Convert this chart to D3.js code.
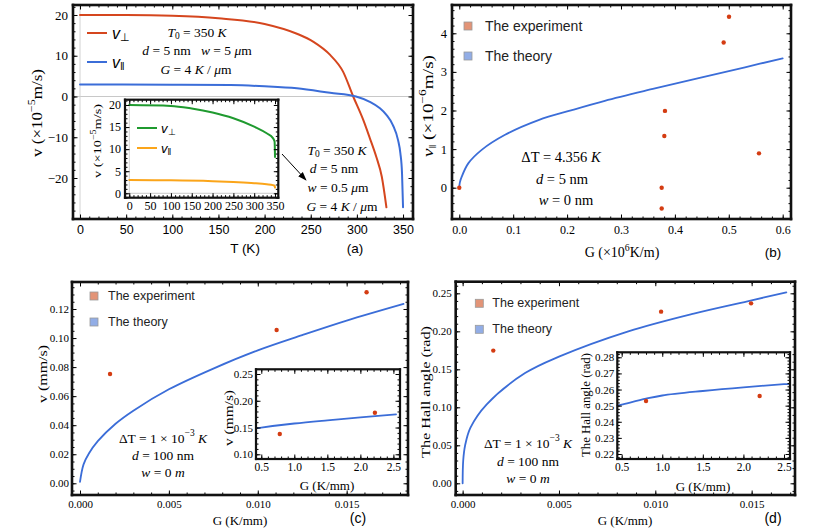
<!DOCTYPE html>
<html><head><meta charset="utf-8">
<script src="https://cdn.jsdelivr.net/npm/d3@7"></script>
<style>body{margin:0;background:#fff}svg{display:block}</style>
</head><body>
<svg id="c" width="831" height="528" viewBox="0 0 831 528"></svg>
<script>
// ---------------- DATA ----------------
const aTickX = [0,50,100,150,200,250,300,350];
const aTickY = [-20,-10,0,10,20];
const aPerpT = [0,50,100,150,200,235,253,271,285,296,307,314,321,327,332];
const aPerpV = [20,19.98,19.8,19.2,17.8,15.4,13.4,10.2,6.1,0,-5.8,-10.2,-14.8,-19.7,-27.2];
const aParT  = [0,100,163,200,235,271,299,314,325,332,339,344.6,347.1,348.9,350];
const aParV  = [2.95,2.9,2.8,2.5,2.0,0.9,0,-1.3,-2.9,-4.5,-7.0,-10.7,-13.9,-18.8,-27.2];
const aiTickX = [0,50,100,150,200,250,300,350];
const aiTickY = [0,5,10,15,20];
const aiPerpT = [0,100,150,200,250,300,330,345,349,350];
const aiPerpV = [20,19.8,19.2,18.3,17.0,15.1,13.6,12.5,11.7,8.2];
const aiParT  = [0,100,200,250,300,330,345,349,350];
const aiParV  = [3.0,2.95,2.75,2.55,2.3,2.05,1.85,1.7,1.3];
const bTickX = [0,0.1,0.2,0.3,0.4,0.5,0.6];
const bTickY = [0,1,2,3,4];
const bTheoG = [0,0.001,0.0044,0.0167,0.0416,0.085,0.147,0.209,0.27,0.363,0.45,0.53,0.6];
const bTheoV = [0,0.13,0.28,0.63,0.98,1.37,1.75,2.01,2.25,2.57,2.86,3.12,3.35];
const bExpG  = [0,0.5004,0.4905,0.3816,0.3804,0.556,0.3755,0.3755];
const bExpV  = [0,4.43,3.76,1.99,1.34,0.89,0,-0.54];
const cTickX = [0,0.005,0.010,0.015];
const cTickY = [0,0.02,0.04,0.06,0.08,0.10,0.12];
const cTheoG = [0,0.0002,0.0005,0.001,0.002,0.003,0.005,0.0075,0.01,0.0125,0.015,0.0182];
const cTheoV = [0.001,0.013,0.0205,0.029,0.041,0.050,0.0647,0.079,0.0915,0.102,0.112,0.1235];
const cExpG  = [0.00169,0.01106,0.01612];
const cExpV  = [0.0753,0.1056,0.1315];
const ciTickX = [0.5,1.0,1.5,2.0,2.5];
const ciTickY = [0.10,0.15,0.20,0.25];
const ciTheoG = [0.42,0.5,1.0,1.5,2.0,2.54];
const ciTheoV = [0.1485,0.150,0.1575,0.1635,0.169,0.1745];
const ciExpG  = [0.78,2.22];
const ciExpV  = [0.138,0.1776];
const dTickX = [0,0.005,0.010,0.015];
const dTickY = [0,0.05,0.10,0.15,0.20,0.25];
const dTheoG = [0,0.00003,0.00013,0.0004,0.00125,0.00324,0.005,0.0086,0.012,0.015,0.0168];
const dTheoV = [0,0.03,0.05,0.073,0.104,0.145,0.1667,0.20,0.2234,0.2408,0.2513];
const dExpG  = [0.00159,0.0103,0.01497];
const dExpV  = [0.1746,0.2259,0.2368];
const diTickX = [0.5,1.0,1.5,2.0,2.5];
const diTickY = [0.22,0.23,0.24,0.25,0.26,0.27,0.28];
const diTheoG = [0.446,0.5,0.8,1.0,1.5,2.0,2.5,2.574];
const diTheoV = [0.25,0.2506,0.2543,0.2563,0.2591,0.2614,0.2633,0.2635];
const diExpG  = [0.8,2.2];
const diExpV  = [0.2529,0.256];
const legendLabels = ["The experiment","The theory"];

// ---------------- STYLE ----------------
const SERIF = "'Liberation Serif','Times New Roman',serif";
const SANS  = "'Liberation Sans',Arial,sans-serif";
const RED = "#d5461e", BLUE = "#3b6dd8", GREEN = "#1f9a2f", ORANGE = "#fba51a", PT = "#d43c12";
const svg = d3.select("#c");
const defs = svg.append("defs");
const frames = [];

function zip(a,b){ return a.map((v,i)=>[v,b[i]]); }

function panel(c){
  const g = svg.append("g");
  const x = d3.scaleLinear().domain(c.xd).range([c.x0,c.x1]);
  const y = d3.scaleLinear().domain(c.yd).range([c.y1,c.y0]);
  if (c.bg) g.append("rect").attr("x",c.x0).attr("y",c.y0).attr("width",c.x1-c.x0).attr("height",c.y1-c.y0).attr("fill","#fff");
  const under = g.append("g");
  const plot = g.append("g");
  const axes = g.append("g");
  const minor = (d,s)=> d3.range(Math.ceil(d[0]/s-1e-9)*s, d[1]+1e-12, s).map(v=>+v.toFixed(8));
  const style = (a,font,fs)=>{ a.select(".domain").remove();
      a.selectAll("line").attr("stroke","#000").attr("stroke-width",1);
      a.selectAll("text").attr("font-family",font).attr("font-size",fs).attr("fill","#000"); };
  const mk = [
    [d3.axisBottom(x), 0, c.y1, c.xt, c.xfmt, c.xfont, c.xfs, c.xpad, c.xm, c.xd],
    [d3.axisTop(x), 0, c.y0, c.xt, null, null, 1, 0, c.xm, c.xd],
    [d3.axisLeft(y), c.x0, 0, c.yt, c.yfmt, c.yfont, c.yfs, c.ypad, c.ym, c.yd],
    [d3.axisRight(y), c.x1, 0, c.yt, null, null, 1, 0, c.ym, c.yd]
  ];
  mk.forEach(([ax,tx,ty,tv,fmt,font,fs,pad,ms,dom])=>{
    const a1 = axes.append("g").attr("transform",`translate(${tx},${ty})`)
      .call(ax.tickValues(minor(dom,ms)).tickSize(-2.5).tickFormat(() => ""));
    style(a1,SERIF,1);
    const a2 = axes.append("g").attr("transform",`translate(${tx},${ty})`)
      .call(ax.tickValues(tv).tickSize(-4.5).tickPadding(pad||4).tickFormat(fmt? d3.format(fmt): () => ""));
    style(a2,font||SERIF,fs||12);
  });
  frames.push({x0:c.x0,y0:c.y0,x1:c.x1,y1:c.y1,w:c.sw||2.6});
  return {g,x,y,under,plot};
}
function drawFrames(){
  const fg = svg.append("g").attr("class","frames");
  frames.forEach(f=>{
    const h = f.w/2;
    [[f.x0-h,f.y0-h,f.x1-f.x0+f.w,f.w],[f.x1-h,f.y0-h,f.w,f.y1-f.y0+f.w],
     [f.x0-h,f.y1-h,f.x1-f.x0+f.w,f.w],[f.x0-h,f.y0-h,f.w,f.y1-f.y0+f.w]].forEach(r=>{
      fg.append("rect").attr("x",r[0]).attr("y",r[1]).attr("width",r[2]).attr("height",r[3]).attr("fill","#111");
    });
  });
}

function curve(p, xs, ys, color, w, cv){
  const line = d3.line().x(d=>p.x(d[0])).y(d=>p.y(d[1])).curve(cv || d3.curveMonotoneX);
  p.plot.append("path").datum(zip(xs,ys)).attr("d",line).attr("fill","none")
    .attr("stroke",color).attr("stroke-width",w||1.8).attr("stroke-linejoin","round").attr("stroke-linecap","round");
}
function dots(p, xs, ys, r){
  p.plot.selectAll("circle.pt").data(zip(xs,ys)).enter().append("circle").attr("class","pt")
    .attr("cx",d=>p.x(d[0])).attr("cy",d=>p.y(d[1])).attr("r",r||2.2).attr("fill",PT);
}
function grayLines(p, xd, yd){
  p.under.append("line").attr("x1",p.x(xd[0])).attr("x2",p.x(xd[1])).attr("y1",p.y(0)).attr("y2",p.y(0)).attr("stroke","#c8c8c8");
  p.under.append("line").attr("x1",p.x(0)).attr("x2",p.x(0)).attr("y1",p.y(yd[1])).attr("y2",p.y(yd[0])).attr("stroke","#d2d2d2");
}

function rich(parent, x, y, parts, o){
  const size = o.size;
  const t = parent.append("text").attr("x",x).attr("y",y)
    .attr("text-anchor",o.anchor||"middle").attr("dominant-baseline","central")
    .attr("font-family",o.font||SERIF).attr("font-size",size).attr("fill","#000")
    .style("white-space","pre");
  if (o.rotate) t.attr("transform",`rotate(-90,${x},${y})`);
  if (o.len) t.attr("textLength",o.len).attr("lengthAdjust","spacingAndGlyphs");
  let shift = 0;
  parts.forEach(p=>{
    const s = typeof p === "string" ? {t:p} : p;
    const target = s.sub ? size*0.28 : s.sup ? -size*0.38 : 0;
    const ts = t.append("tspan").text(s.t).attr("dy", target-shift);
    shift = target;
    if (s.sub||s.sup) ts.attr("font-size", size*0.7);
    if (s.i) ts.attr("font-style","italic");
  });
  return t;
}
function legendBoxes(x, y0, dy, fs, tx){
  const fills = ["#e39477","#92ade6"];
  legendLabels.forEach((lab,i)=>{
    svg.append("rect").attr("x",x-4).attr("y",y0+i*dy-4).attr("width",8).attr("height",8)
      .attr("fill",fills[i]).attr("stroke","#9a9a9a").attr("stroke-width",0.8);
    svg.append("text").attr("x",tx).attr("y",y0+i*dy).attr("dominant-baseline","central")
      .attr("font-family",SANS).attr("font-size",fs).attr("fill","#222").text(lab);
  });
}
const CR = d3.curveCatmullRom.alpha(0.5);

// ---------------- (a) ----------------
const aXD = [-7.6,360.8], aYD = [-30.06,22.45];
const pa = panel({x0:73,x1:413,y0:5,y1:219, xd:aXD, yd:aYD,
  xt:aTickX, yt:aTickY, xm:10, ym:2, xfmt:"d", yfmt:"d", xfont:SANS, xfs:12.5, yfs:13, xpad:6, ypad:5});
grayLines(pa, aXD, aYD);
curve(pa, aPerpT, aPerpV, RED, 2);
curve(pa, aParT, aParV, BLUE, 2);
[[RED,33,"⊥"],[BLUE,62,"‖"]].forEach(([col,yy,sym])=>{
  svg.append("line").attr("x1",87).attr("x2",107).attr("y1",yy).attr("y2",yy).attr("stroke",col).attr("stroke-width",2);
  rich(svg,112,yy,[{t:"v",i:1},{t:sym,sub:1}],{size:16,font:SANS,anchor:"start"});
});
rich(svg,197,32,[{t:"T",i:1},{t:"0",sub:1}," = 350 ",{t:"K",i:1}],{size:13.5});
rich(svg,197,50,[{t:"d",i:1}," = 5 nm\u00a0\u00a0\u00a0",{t:"w",i:1}," = 5 ",{t:"μ",i:1},"m"],{size:13.5});
rich(svg,196,69,[{t:"G",i:1}," = 4 ",{t:"K",i:1}," / ",{t:"μ",i:1},"m"],{size:13.5});
rich(svg,337,150,[{t:"T",i:1},{t:"0",sub:1}," = 350 ",{t:"K",i:1}],{size:13.5});
rich(svg,334,168,[{t:"d",i:1}," = 5 nm"],{size:13.5});
rich(svg,338,187,[{t:"w",i:1}," = 0.5 ",{t:"μ",i:1},"m"],{size:13.5});
rich(svg,342,206,[{t:"G",i:1}," = 4 ",{t:"K",i:1}," / ",{t:"μ",i:1},"m"],{size:13.5});
defs.append("marker").attr("id","ah").attr("viewBox","0 0 10 10").attr("refX",9).attr("refY",5)
  .attr("markerWidth",9).attr("markerHeight",9).attr("orient","auto").attr("markerUnits","userSpaceOnUse")
  .append("path").attr("d","M0,1.5 L10,5 L0,8.5 Z").attr("fill","#000");
svg.append("line").attr("x1",282).attr("y1",154).attr("x2",306).attr("y2",180).attr("stroke","#000").attr("stroke-width",1).attr("marker-end","url(#ah)");
rich(svg,245,248,["T (K)"],{size:13.5,font:SANS});
rich(svg,355,248,["(a)"],{size:13.5,font:SANS});
rich(svg,37,113,["v (×10",{t:"−5",sup:1},"m/s)"],{size:15,rotate:1,len:88});

const aiXD = [-10.3,357.9], aiYD = [-1.0,21.2];
const pai = panel({x0:125,x1:278.3,y0:99.7,y1:197.7, xd:aiXD, yd:aiYD,
  xt:aiTickX, yt:aiTickY, xm:10, ym:1, xfmt:"d", yfmt:"d", xfs:12, yfs:12, xpad:4, ypad:4, bg:1, sw:2.2});
grayLines(pai, aiXD, aiYD);
curve(pai, aiPerpT, aiPerpV, GREEN, 2);
curve(pai, aiParT, aiParV, ORANGE, 2);
[[GREEN,128,"⊥"],[ORANGE,148,"‖"]].forEach(([col,yy,sym])=>{
  svg.append("line").attr("x1",137).attr("x2",157).attr("y1",yy).attr("y2",yy).attr("stroke",col).attr("stroke-width",2);
  rich(svg,161,yy,[{t:"v",i:1},{t:sym,sub:1}],{size:13,font:SANS,anchor:"start"});
});
rich(svg,97,141,["v (×10",{t:"−5",sup:1},"m/s)"],{size:11,rotate:1,len:74});

// ---------------- (b) ----------------
const pb = panel({x0:452,x1:791,y0:5,y1:219, xd:[-0.0135,0.6154], yd:[-0.811,4.733],
  xt:bTickX, yt:bTickY, xm:0.02, ym:0.2, xfmt:".1f", yfmt:"d", xfs:12, yfs:12.5, xpad:6, ypad:5});
curve(pb, bTheoG, bTheoV, BLUE, 1.8, CR);
dots(pb, bExpG, bExpV);
legendBoxes(468,26,30,14,485);
rich(svg,561,157,["ΔT = 4.356 ",{t:"K",i:1}],{size:14.5});
rich(svg,562,179,[{t:"d",i:1}," = 5 nm"],{size:14.5});
rich(svg,566,200,[{t:"w",i:1}," = 0 nm"],{size:14.5});
rich(svg,622,252,["G (×10",{t:"6",sup:1},"K/m)"],{size:14});
rich(svg,773,252,["(b)"],{size:13.5,font:SANS});
rich(svg,428,106,[{t:"v",i:1},{t:"‖",sub:1}," (×10",{t:"−6",sup:1},"m/s)"],{size:15,rotate:1,len:102});

// ---------------- (c) ----------------
const pc = panel({x0:72,x1:408,y0:282,y1:495, xd:[-0.00045,0.01845], yd:[-0.00806,0.1386],
  xt:cTickX, yt:cTickY, xm:0.001, ym:0.005, xfmt:".3f", yfmt:".2f", xfs:11, yfs:11, xpad:5, ypad:3});
curve(pc, cTheoG, cTheoV, BLUE, 1.8, CR);
dots(pc, cExpG, cExpV);
legendBoxes(94,296,26,12.5,108);
rich(svg,163,438,["ΔT = 1 × 10",{t:"−3",sup:1}," ",{t:"K",i:1}],{size:13.5});
rich(svg,163,455,[{t:"d",i:1}," = 100 nm"],{size:13.5});
rich(svg,163,472,[{t:"w",i:1}," = 0 ",{t:"m",i:1}],{size:13.5});
rich(svg,240,520,["G (K/mm)"],{size:13});
rich(svg,358,518,["(c)"],{size:14,font:SANS});
rich(svg,42,374,["v (mm/s)"],{size:13,rotate:1,len:58});
const pci = panel({x0:256,x1:400,y0:369.3,y1:459, xd:[0.42,2.60], yd:[0.0912,0.2588],
  xt:ciTickX, yt:ciTickY, xm:0.1, ym:0.01, xfmt:".1f", yfmt:".2f", xfs:11.5, yfs:11, xpad:4, ypad:3, bg:1, sw:2.2});
curve(pci, ciTheoG, ciTheoV, BLUE, 1.8, CR);
dots(pci, ciExpG, ciExpV);
rich(svg,327,485,["G (K/mm)"],{size:13});
rich(svg,229,418,["v (mm/s)"],{size:12,rotate:1,len:56});

// ---------------- (d) ----------------
const pd = panel({x0:455.7,x1:795,y0:281.7,y1:495, xd:[-0.00036,0.01725], yd:[-0.0154,0.2653],
  xt:dTickX, yt:dTickY, xm:0.001, ym:0.01, xfmt:".3f", yfmt:".2f", xfs:11, yfs:11, xpad:5, ypad:4});
curve(pd, dTheoG, dTheoV, BLUE, 1.8, CR);
dots(pd, dExpG, dExpV);
legendBoxes(479.3,303.3,26,12.5,492.3);
rich(svg,528,443,["ΔT = 1 × 10",{t:"−3",sup:1}," ",{t:"K",i:1}],{size:13.5});
rich(svg,528,461,[{t:"d",i:1}," = 100 nm"],{size:13.5});
rich(svg,528,478,[{t:"w",i:1}," = 0 ",{t:"m",i:1}],{size:13.5});
rich(svg,625,520,["G (K/mm)"],{size:13});
rich(svg,773,518,["(d)"],{size:14,font:SANS});
rich(svg,425,392,["The Hall angle (rad)"],{size:13.5,rotate:1,len:132});
const pdi = panel({x0:617.3,x1:790,y0:352.3,y1:459, xd:[0.446,2.574], yd:[0.2169,0.2831],
  xt:diTickX, yt:diTickY, xm:0.1, ym:0.002, xfmt:".1f", yfmt:".2f", xfs:11.5, yfs:11, xpad:4, ypad:3, bg:1, sw:2.2});
curve(pdi, diTheoG, diTheoV, BLUE, 1.8, CR);
dots(pdi, diExpG, diExpV);
rich(svg,703,486,["G (K/mm)"],{size:13});
rich(svg,586,405,["The Hall angle (rad)"],{size:11.5,rotate:1,len:104});

drawFrames();
</script>
</body></html>
